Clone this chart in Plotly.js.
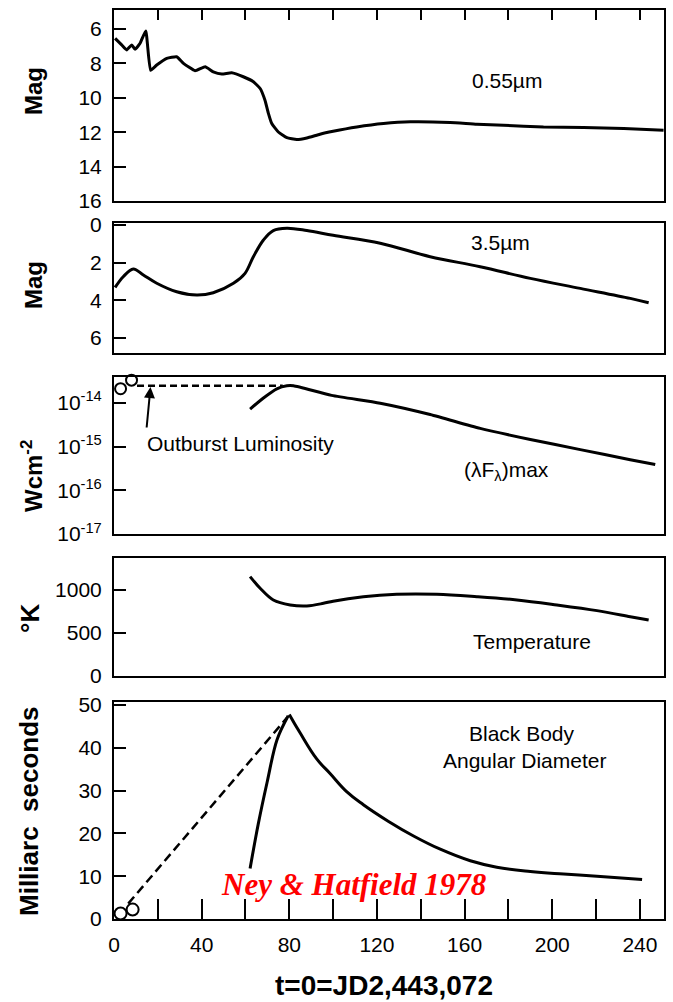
<!DOCTYPE html>
<html><head><meta charset="utf-8">
<script src="https://cdn.plot.ly/plotly-3.0.1.min.js"></script>
<style>html,body{margin:0;padding:0;background:#fff;}</style>
</head><body><div id="chart" style="width:673px;height:1002px;"></div>
<script>
// ---------- DATA ----------
// Panel 1: 0.55 um magnitude
const visDays = [0.5,3.5,5.8,8.1,9.6,11.9,14.5,16.7,19.5,24.1,28.6,31.7,37,41.6,45.3,49.2,53.7,59,63.6,66.7,68.9,70.5,72,75,78.9,83.4,88,94,100,110.8,123,135.2,153.4,165.6,177.8,196,214.3,232.6,250.8];
const visMag  = [6.55,6.93,7.22,6.93,7.18,6.83,6.12,8.4,8.1,7.71,7.62,8.0,8.43,8.2,8.49,8.62,8.55,8.78,9.07,9.46,10.14,10.92,11.5,11.99,12.32,12.43,12.34,12.12,11.95,11.7,11.5,11.4,11.44,11.54,11.6,11.7,11.73,11.79,11.89];
// Panel 2: 3.5 um magnitude
const irDays = [0.5,4.2,8.8,13.4,19.5,28.6,37.8,45.3,54.5,59.8,63.6,68.2,72.7,78.9,88,100,121.5,144.3,167.1,190,212.8,235.6,244];
const irMag  = [3.32,2.75,2.34,2.66,3.1,3.55,3.72,3.6,3.1,2.57,1.69,0.8,0.3,0.18,0.3,0.55,0.97,1.69,2.22,2.84,3.37,3.9,4.13];
// Panel 3: (lambda F lambda) max, W cm^-2
const fluxDays = [62.1,68.2,74.3,78.9,81.9,99.3,121.5,144.3,167.1,190,212.8,235.6,247];
const fluxVal  = [7.2e-15,1.29e-14,2.09e-14,2.45e-14,2.45e-14,1.48e-14,9.8e-15,5.4e-15,2.6e-15,1.45e-15,8.5e-16,5.0e-16,3.9e-16];
const outburstDays = [10.5,77];
const outburstVal  = [2.45e-14,2.45e-14];
const earlyFluxDays = [3.0,8.0];
const earlyFluxVal  = [2.1e-14,3.3e-14];
// Panel 4: temperature, K
const tempDays = [62.1,66.7,72.7,80.4,88,95.6,100,113.8,129,147.3,165.6,183.9,202.1,220.4,235.6,244];
const tempK    = [1155,1020,884,826,814,845,870,922,950,950,922,884,826,760,690,651];
// Panel 5: black body angular diameter, milliarcsec
const diamDays = [80,84.9,92.5,98.6,106.3,113.8,125.3,136.7,148.9,162.6,174.7,190,205.2,220.4,241];
const diamMas  = [47.8,43.5,37.4,34,29.7,26.7,22.8,19.4,16.3,13.6,12.1,11.1,10.5,10.0,9.2];
const expDays = [6.5,78.9];
const expMas  = [3.6,47.0];
const earlyDiamDays = [3.0,8.5];
const earlyDiamMas  = [1.3,2.2];
const pointerDays = [62.1,65.8,69.9,74.4,79.5];
const pointerMas  = [11.8,22.1,32.0,41.9,47.5];
// Tick labels
const xTickVals = [0,40,80,120,160,200,240];
const magTicks1 = [6,8,10,12,14,16];
const magTicks2 = [0,2,4,6];
const fluxTicks = [1e-14,1e-15,1e-16,1e-17];
const fluxTickText = ['10<sup>-14</sup>','10<sup>-15</sup>','10<sup>-16</sup>','10<sup>-17</sup>'];
const tempTicks = [0,500,1000];
const diamTicks = [0,10,20,30,40,50];

// ---------- LAYOUT ----------
const W = 673, H = 1002;
const px = v => v / W, py = v => 1 - v / H;
const FONT = 'Liberation Sans, Arial, Helvetica, sans-serif';
const blk = '#000';
const lineS = {color: blk, width: 3};
const smooth = s => Object.assign({shape:'spline', smoothing:s}, lineS);

const xd = [px(114), px(664)];
const xr = [0, 251];
const doms = [[py(201),py(10)],[py(353),py(223)],[py(534),py(377)],[py(676),py(558)],[py(919),py(702)]];

function yax(extra){
  return Object.assign({showline:true, linecolor:blk, linewidth:2, mirror:true, showgrid:false, zeroline:false,
    ticks:'inside', ticklen:12, tickwidth:2, tickcolor:blk, ticklabelstandoff:6,
    tickfont:{family:FONT, size:21, color:blk}, fixedrange:true}, extra);
}
function xax(i, extra){
  return Object.assign({domain:xd, range:xr, anchor: i===1?'y':'y'+i, showline:true, linecolor:blk, linewidth:2,
    mirror:true, showgrid:false, zeroline:false, ticks:'', showticklabels:false, fixedrange:true}, extra);
}

const traces = [
  {x:visDays, y:visMag, xaxis:'x', yaxis:'y', mode:'lines', line:smooth(0.4)},
  {x:irDays, y:irMag, xaxis:'x2', yaxis:'y2', mode:'lines', line:smooth(1.0)},
  {x:fluxDays, y:fluxVal, xaxis:'x3', yaxis:'y3', mode:'lines', line:smooth(0.6)},
  {x:outburstDays, y:outburstVal, xaxis:'x3', yaxis:'y3', mode:'lines', line:{color:blk, width:2.5, dash:'7px,4px'}},
  {x:earlyFluxDays, y:earlyFluxVal, xaxis:'x3', yaxis:'y3', mode:'markers', cliponaxis:false,
   marker:{symbol:'circle-open', size:11, color:blk, line:{width:2, color:blk}}},
  {x:tempDays, y:tempK, xaxis:'x4', yaxis:'y4', mode:'lines', line:smooth(1.0)},
  {x:diamDays, y:diamMas, xaxis:'x5', yaxis:'y5', mode:'lines', line:smooth(1.2)},
  {x:expDays, y:expMas, xaxis:'x5', yaxis:'y5', mode:'lines', line:{color:blk, width:2.5, dash:'9px,5px'}},
  {x:earlyDiamDays, y:earlyDiamMas, xaxis:'x5', yaxis:'y5', mode:'markers', cliponaxis:false,
   marker:{symbol:'circle-open', size:12, color:blk, line:{width:2, color:blk}}},
  {x:pointerDays, y:pointerMas, xaxis:'x5', yaxis:'y5', mode:'lines', line:smooth(1.0)}
];

function txt(text, x, y, size, extra){
  return Object.assign({text:text, xref:'paper', yref:'paper', x:px(x), y:py(y), showarrow:false,
    xanchor:'center', yanchor:'middle', font:{family:FONT, size:size, color:blk}}, extra||{});
}
function ytitle(text, x, y, size){
  return txt('<b>'+text+'</b>', x, y, size, {textangle:-90});
}

const annotations = [
  ytitle('Mag', 34, 91, 24),
  ytitle('Mag', 33, 285, 24),
  ytitle('Wcm<sup>-2</sup>', 32, 476, 24),
  ytitle('°K', 30, 619, 26),
  ytitle('Milliarc  seconds', 29, 811, 26),
  txt('0.55µm', 507, 80, 21),
  txt('3.5µm', 500, 243, 21),
  txt('Outburst Luminosity', 145, 444, 21, {xanchor:'left'}),
  txt('(λF<sub>λ</sub>)max', 506, 471, 21),
  txt('Temperature', 532, 641, 21),
  txt('Black Body', 522, 733, 21),
  txt('Angular Diameter', 524, 760, 21),
  txt('<b><i>Ney &amp; Hatfield 1978</i></b>', 354, 884, 31, {font:{family:'Liberation Serif, Times New Roman, serif', size:31, color:'#ff0000'}}),
  txt('<b>t=0=JD2,443,072</b>', 384, 985, 28),
  {text:'', xref:'paper', yref:'paper', x:px(150.5), y:py(387), ax:-4, ay:42, showarrow:true,
   arrowhead:2, arrowsize:1.1, arrowwidth:2, arrowcolor:blk, standoff:0}
];

const layout = {
  width:W, height:H, margin:{l:0,r:0,t:0,b:0}, paper_bgcolor:'#fff', plot_bgcolor:'#fff', showlegend:false,
  font:{family:FONT, color:blk},
  xaxis: xax(1, {side:'top', ticks:'inside', ticklen:10, tickwidth:2, tickcolor:blk, tick0:0, dtick:20}),
  xaxis2: xax(2), xaxis3: xax(3), xaxis4: xax(4),
  xaxis5: xax(5, {ticks:'inside', ticklen:20, tickwidth:2, tickcolor:blk, tickmode:'array', tickvals:xTickVals,
    showticklabels:true, ticklabelstandoff:6, tickfont:{family:FONT, size:21, color:blk},
    minor:{tick0:0, dtick:20, ticks:'inside', ticklen:20, tickwidth:2, tickcolor:blk}}),
  yaxis: yax({domain:doms[0], range:[16,4.9], tickmode:'array', tickvals:magTicks1}),
  yaxis2: yax({domain:doms[1], range:[6.8,-0.1], tickmode:'array', tickvals:magTicks2}),
  yaxis3: yax({domain:doms[2], type:'log', range:[-17,-13.41], tickmode:'array', tickvals:fluxTicks, ticktext:fluxTickText}),
  yaxis4: yax({domain:doms[3], range:[0,1372], tickmode:'array', tickvals:tempTicks}),
  yaxis5: yax({domain:doms[4], range:[0,50.7], tickmode:'array', tickvals:diamTicks}),
  annotations: annotations
};

Plotly.newPlot('chart', traces, layout, {staticPlot:true, displayModeBar:false});
</script>
</body></html>
